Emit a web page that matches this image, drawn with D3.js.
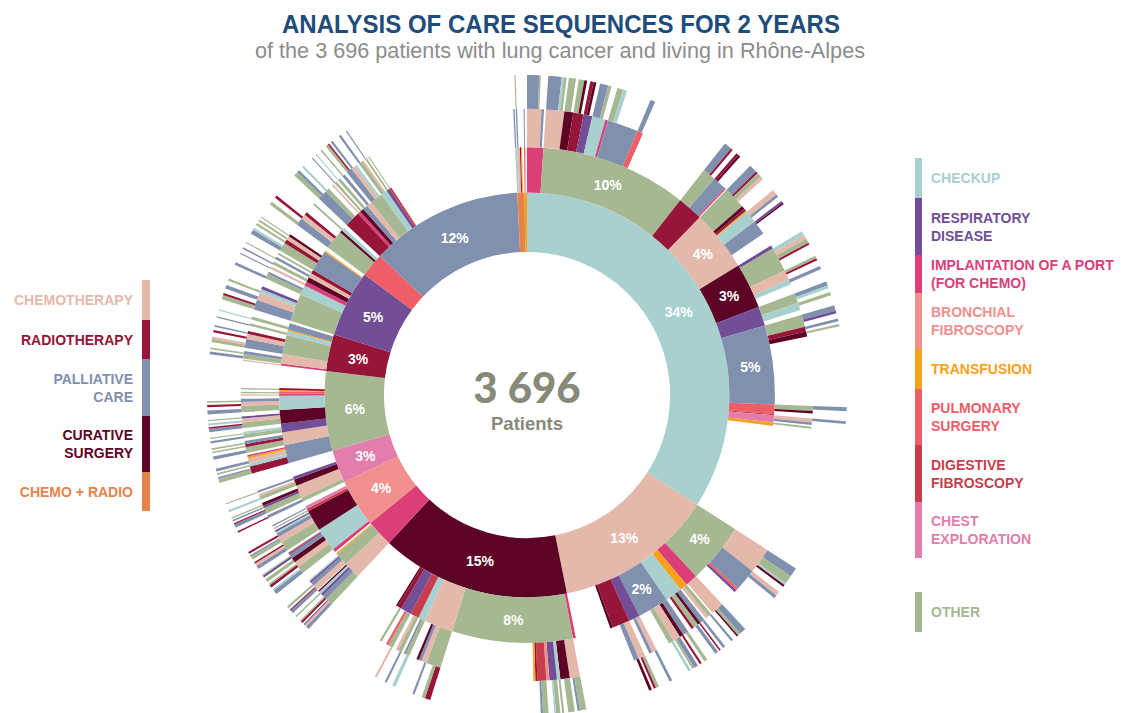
<!DOCTYPE html>
<html><head><meta charset="utf-8">
<script src="https://cdn.jsdelivr.net/npm/d3@7"></script>
<style>body{margin:0;background:#fff}svg{display:block}</style>
</head><body>
<svg id="chart" width="1127" height="713"></svg>
<script>
// ---------------- DATA ----------------
const titleText = "ANALYSIS OF CARE SEQUENCES FOR 2 YEARS";
const subtitleText = "of the 3 696 patients with lung cancer and living in Rhône-Alpes";
const centerNumber = "3 696";
const centerLabel = "Patients";

const categoryCodes = ["CHK","RES","POR","BRO","TRA","PUL","DIG","CHE","OTH","CMO","RAD","PAL","CUR","CR"];
const categoryNames = ["Checkup","Respiratory disease","Implantation of a port (for chemo)","Bronchial fibroscopy","Transfusion","Pulmonary surgery","Digestive fibroscopy","Chest exploration","Other","Chemotherapy","Radiotherapy","Palliative care","Curative surgery","Chemo + radio"];

// share of patients (%) for each care sequence (path of successive events)
const checkupSeqs = [
 ["CHK",34.11],
 ["CHK-POR",1.06],["CHK-POR-CMO",0.81],["CHK-POR-CMO-PAL",0.61],["CHK-POR-CMO-OTH",0.08],["CHK-POR-PAL",0.14],
 ["CHK-OTH",9.55],["CHK-OTH-CMO",1.03],["CHK-OTH-CMO-PAL",0.67],["CHK-OTH-CMO-CHK",0.11],["CHK-OTH-CMO-OTH",0.14],
 ["CHK-OTH-CUR",0.5],["CHK-OTH-CUR-OTH",0.36],
 ["CHK-OTH-RAD",0.58],["CHK-OTH-RAD-OTH",0.28],["CHK-OTH-RAD-CUR",0.14],
 ["CHK-OTH-RES",0.5],["CHK-OTH-RES-RAD",0.17],["CHK-OTH-RES-CUR",0.14],
 ["CHK-OTH-CHK",0.75],["CHK-OTH-CHK-PAL",0.42],["CHK-OTH-CHK-OTH",0.17],
 ["CHK-OTH-POR",0.14],
 ["CHK-OTH-PAL",1.75],["CHK-OTH-PAL-OTH",0.3],["CHK-OTH-PAL-CHK",0.2],
 ["CHK-OTH-PUL",0.33],["CHK-OTH-PUL-PAL",0.25],
 ["CHK-RAD",1.67],["CHK-RAD-OTH",0.75],["CHK-RAD-OTH-PAL",0.39],["CHK-RAD-OTH-RAD",0.11],
 ["CHK-RAD-PAL",0.78],["CHK-RAD-PAL-RAD",0.14],["CHK-RAD-PAL-CUR",0.11],["CHK-RAD-POR",0.08],
 ["CHK-CMO",3.97],["CHK-CMO-OTH",1.25],["CHK-CMO-OTH-PAL",0.42],["CHK-CMO-OTH-RAD",0.11],["CHK-CMO-OTH-OTH",0.22],["CHK-CMO-OTH-CMO",0.17],
 ["CHK-CMO-CUR",0.19],["CHK-CMO-RAD",0.14],["CHK-CMO-TRA",0.08],
 ["CHK-CMO-CHK",0.69],["CHK-CMO-CHK-CMO",0.28],["CHK-CMO-CHK-PAL",0.14],
 ["CHK-CMO-PAL",0.83],["CHK-CMO-PAL-RES",0.11],["CHK-CMO-PAL-CUR",0.08],
 ["CHK-CUR",2.97],["CHK-CUR-RES",0.19],["CHK-CUR-OTH",1.39],["CHK-CUR-OTH-CHK",0.22],["CHK-CUR-OTH-CMO",0.22],["CHK-CUR-OTH-OTH",0.22],["CHK-CUR-OTH-RAD",0.11],
 ["CHK-CUR-CMO",0.56],["CHK-CUR-CMO-OTH",0.14],["CHK-CUR-CMO-RAD",0.11],
 ["CHK-CUR-CHK",0.28],["CHK-CUR-CHK-PAL",0.17],
 ["CHK-RES",1.25],["CHK-RES-OTH",0.56],["CHK-RES-OTH-PAL",0.22],["CHK-RES-OTH-CHK",0.14],
 ["CHK-RES-CHK",0.42],["CHK-RES-CHK-OTH",0.17],
 ["CHK-PAL",5.14],["CHK-PAL-OTH",0.69],["CHK-PAL-OTH-PAL",0.28],["CHK-PAL-OTH-RES",0.14],
 ["CHK-PAL-RAD",0.28],["CHK-PAL-RAD-PAL",0.14],["CHK-PAL-CUR",0.28],["CHK-PAL-CUR-OTH",0.11],
 ["CHK-PUL",0.61],["CHK-PUL-OTH",0.28],["CHK-PUL-OTH-PAL",0.19],["CHK-PUL-CUR",0.14],
 ["CHK-DIG",0.08],
 ["CHK-CHE",0.47],["CHK-CHE-CMO",0.22],["CHK-CHE-CMO-PAL",0.14],["CHK-CHE-PAL",0.14],
 ["CHK-TRA",0.22],["CHK-TRA-OTH",0.11]
];
const chemoSeqs = [
 ["CMO",12.72],
 ["CMO-OTH",3.94],["CMO-OTH-CMO",1.44],["CMO-OTH-CMO-PAL",0.47],["CMO-OTH-CMO-OTH",0.42],["CMO-OTH-CMO-CHK",0.11],["CMO-OTH-CMO-CUR",0.11],
 ["CMO-OTH-PAL",1.25],["CMO-OTH-PAL-CMO",0.22],["CMO-OTH-PAL-PAL",0.17],["CMO-OTH-PUL",0.14],["CMO-OTH-RES",0.14],
 ["CMO-POR",0.81],["CMO-POR-CMO",0.72],["CMO-POR-CMO-PAL",0.33],["CMO-POR-CMO-OTH",0.14],["CMO-POR-CMO-CUR",0.08],
 ["CMO-TRA",0.5],["CMO-TRA-OTH",0.22],["CMO-TRA-OTH-PAL",0.11],["CMO-TRA-CMO",0.17],
 ["CMO-CHK",1.11],["CMO-CHK-PAL",0.28],["CMO-CHK-PAL-PAL",0.14],["CMO-CHK-CUR",0.17],["CMO-CHK-CUR-RAD",0.08],["CMO-CHK-OTH",0.28],["CMO-CHK-OTH-PAL",0.17],["CMO-CHK-RAD",0.14],
 ["CMO-PAL",2.03],["CMO-PAL-PAL",0.33],["CMO-PAL-PAL-OTH",0.17],["CMO-PAL-CUR",0.22],["CMO-PAL-CUR-RAD",0.11],["CMO-PAL-CMO",0.42],["CMO-PAL-CMO-PAL",0.22],["CMO-PAL-CMO-OTH",0.11],["CMO-PAL-OTH",0.28],["CMO-PAL-OTH-CHK",0.14],
 ["CMO-RES",0.72],["CMO-RES-CMO",0.28],["CMO-RES-CMO-PAL",0.14],["CMO-RES-PAL",0.17],
 ["CMO-RAD",1.14],["CMO-RAD-CMO",0.39],["CMO-RAD-CMO-OTH",0.17],["CMO-RAD-CMO-RAD",0.11],["CMO-RAD-PAL",0.28],["CMO-RAD-PAL-CUR",0.14],
 ["CMO-CUR",0.17]
];
const surgerySeqs = [
 ["CUR",15.11],
 ["CUR-POR",0.19],
 ["CUR-OTH",7.86],["CUR-OTH-CMO",0.58],["CUR-OTH-CMO-OTH",0.33],["CUR-OTH-CMO-PAL",0.11],
 ["CUR-OTH-CUR",0.53],["CUR-OTH-CUR-OTH",0.33],["CUR-OTH-CHK",0.19],["CUR-OTH-CHK-OTH",0.11],
 ["CUR-OTH-RES",0.42],["CUR-OTH-RES-OTH",0.22],["CUR-OTH-RES-CHK",0.08],["CUR-OTH-BRO",0.17],
 ["CUR-OTH-DIG",0.5],["CUR-OTH-DIG-OTH",0.28],["CUR-OTH-DIG-PAL",0.11],["CUR-OTH-RAD",0.11],["CUR-OTH-TRA",0.11],
 ["CUR-CMO",1.86],["CUR-CMO-OTH",0.83],["CUR-CMO-OTH-RAD",0.28],["CUR-CMO-OTH-OTH",0.17],["CUR-CMO-CMO",0.28],["CUR-CMO-CMO-PAL",0.11],["CUR-CMO-PAL",0.17],["CUR-CMO-CUR",0.14],
 ["CUR-CHK",0.47],["CUR-CHK-OTH",0.22],["CUR-CHK-OTH-CHK",0.17],["CUR-CHK-PAL",0.11],
 ["CUR-DIG",0.56],["CUR-DIG-OTH",0.22],["CUR-DIG-OTH-PAL",0.11],["CUR-DIG-CMO",0.14],
 ["CUR-RES",0.69],["CUR-RES-OTH",0.28],["CUR-RES-OTH-CMO",0.11],["CUR-RES-PUL",0.14],
 ["CUR-RAD",0.28],["CUR-RAD-OTH",0.14],["CUR-CUR",0.11]
];
const portSeqs = [
 ["POR",2.14],
 ["POR-CMO",1.11],["POR-CMO-OTH",0.42],["POR-CMO-OTH-PAL",0.17],["POR-CMO-OTH-CMO",0.11],["POR-CMO-OTH-RES",0.06],
 ["POR-CMO-PAL",0.28],["POR-CMO-PAL-RAD",0.11],["POR-CMO-PAL-OTH",0.08],["POR-CMO-RES",0.14],["POR-CMO-CHK",0.14],["POR-CMO-CHK-OTH",0.08],["POR-CMO-CUR",0.08],
 ["POR-OTH",0.83],["POR-OTH-CMO",0.33],["POR-OTH-CMO-PAL",0.17],["POR-OTH-CMO-RAD",0.06],["POR-OTH-PAL",0.22],["POR-OTH-PAL-OTH",0.11],["POR-OTH-RES",0.11],["POR-OTH-CHK",0.08],
 ["POR-TRA",0.08]
];
const bronchialSeqs = [
 ["BRO",3.83],
 ["BRO-POR",0.22],
 ["BRO-CHK",1.53],["BRO-CHK-OTH",0.42],["BRO-CHK-OTH-PAL",0.22],["BRO-CHK-OTH-CHK",0.08],["BRO-CHK-CMO",0.33],["BRO-CHK-CMO-RAD",0.14],["BRO-CHK-CMO-OTH",0.08],
 ["BRO-CHK-CUR",0.28],["BRO-CHK-CUR-OTH",0.17],["BRO-CHK-PAL",0.22],["BRO-CHK-PAL-RES",0.11],["BRO-CHK-PAL-OTH",0.06],["BRO-CHK-RES",0.08],["BRO-CHK-DIG",0.06],
 ["BRO-CUR",1.39],["BRO-CUR-OTH",0.56],["BRO-CUR-OTH-PAL",0.19],["BRO-CUR-OTH-CMO",0.14],["BRO-CUR-OTH-RAD",0.08],["BRO-CUR-CMO",0.33],["BRO-CUR-CMO-OTH",0.17],["BRO-CUR-CMO-PAL",0.08],
 ["BRO-CUR-PAL",0.22],["BRO-CUR-PAL-RAD",0.11],["BRO-CUR-CHK",0.11],["BRO-CUR-RES",0.08],
 ["BRO-DIG",0.17],["BRO-DIG-OTH",0.08],["BRO-CHE",0.19],["BRO-CHE-PAL",0.08]
];
const chestSeqs = [
 ["CHE",2.64],
 ["CHE-OTH",0.28],["CHE-OTH-PAL",0.17],["CHE-OTH-PAL-RAD",0.08],
 ["CHE-CMO",0.83],["CHE-CMO-OTH",0.33],["CHE-CMO-OTH-PAL",0.17],["CHE-CMO-OTH-RAD",0.06],["CHE-CMO-RES",0.14],["CHE-CMO-RES-PAL",0.08],["CHE-CMO-CUR",0.17],["CHE-CMO-CUR-OTH",0.08],
 ["CHE-CUR",0.42],["CHE-CUR-OTH",0.22],["CHE-CUR-OTH-CHK",0.11],["CHE-CUR-CMO",0.11],
 ["CHE-RES",0.19],["CHE-RES-PAL",0.11],["CHE-RES-PAL-OTH",0.06]
];
const otherSeqs = [
 ["OTH",6.33],
 ["OTH-PAL",1.19],["OTH-PAL-RAD",0.42],["OTH-PAL-RAD-OTH",0.22],["OTH-PAL-RAD-PAL",0.08],["OTH-PAL-CHK",0.17],["OTH-PAL-CHK-OTH",0.08],["OTH-PAL-CMO",0.28],["OTH-PAL-CMO-PAL",0.14],["OTH-PAL-TRA",0.11],["OTH-PAL-POR",0.08],
 ["OTH-CMO",0.83],["OTH-CMO-OTH",0.33],["OTH-CMO-OTH-PAL",0.17],["OTH-CMO-RAD",0.17],["OTH-CMO-RAD-OTH",0.08],["OTH-CMO-PAL",0.17],["OTH-CMO-PAL-OTH",0.08],
 ["OTH-RES",0.56],["OTH-RES-OTH",0.22],["OTH-RES-OTH-PAL",0.11],["OTH-RES-CHK",0.14],["OTH-RES-CHK-OTH",0.06],
 ["OTH-CUR",0.89],["OTH-CUR-OTH",0.33],["OTH-CUR-OTH-PAL",0.17],["OTH-CUR-OTH-RAD",0.08],["OTH-CUR-CMO",0.22],["OTH-CUR-CMO-CHK",0.11],["OTH-CUR-RES",0.11],["OTH-CUR-RES-OTH",0.06],
 ["OTH-CHK",0.92],["OTH-CHK-OTH",0.36],["OTH-CHK-OTH-PAL",0.19],["OTH-CHK-CMO",0.22],["OTH-CHK-CMO-RAD",0.11],["OTH-CHK-PAL",0.17],["OTH-CHK-PAL-OTH",0.08],
 ["OTH-POR",0.14],["OTH-POR-CMO",0.08],["OTH-PUL",0.14],["OTH-PUL-OTH",0.08],["OTH-TRA",0.08],["OTH-RAD",0.14],["OTH-RAD-OTH",0.08]
];
const radioSeqs = [
 ["RAD",2.94],
 ["RAD-POR",0.14],["RAD-POR-CMO",0.08],
 ["RAD-CMO",0.61],["RAD-CMO-OTH",0.25],["RAD-CMO-OTH-PAL",0.14],["RAD-CMO-PAL",0.17],["RAD-CMO-PAL-OTH",0.08],
 ["RAD-OTH",1.25],["RAD-OTH-PAL",0.5],["RAD-OTH-PAL-OTH",0.17],["RAD-OTH-PAL-CMO",0.11],["RAD-OTH-CMO",0.28],["RAD-OTH-CMO-RAD",0.11],["RAD-OTH-RAD",0.17],["RAD-OTH-RAD-PAL",0.08],
 ["RAD-CHK",0.28],["RAD-CHK-OTH",0.14],["RAD-CHK-OTH-PAL",0.06],
 ["RAD-TRA",0.08],
 ["RAD-PAL",0.42],["RAD-PAL-OTH",0.17],["RAD-PAL-OTH-CHK",0.06]
];
const respiratorySeqs = [
 ["RES",5.31],
 ["RES-OTH",1.83],["RES-OTH-PAL",0.56],["RES-OTH-PAL-OTH",0.22],["RES-OTH-PAL-RAD",0.11],["RES-OTH-CMO",0.42],["RES-OTH-CMO-PAL",0.19],["RES-OTH-CHK",0.22],["RES-OTH-CHK-OTH",0.11],["RES-OTH-RES",0.17],
 ["RES-CHK",0.61],["RES-CHK-OTH",0.28],["RES-CHK-OTH-PAL",0.14],["RES-CHK-PAL",0.14],
 ["RES-POR",0.28],["RES-POR-CMO",0.14],["RES-POR-CMO-PAL",0.06],
 ["RES-CUR",0.33],["RES-CUR-OTH",0.17],["RES-CUR-OTH-PAL",0.08],
 ["RES-CMO",0.28],["RES-CMO-PAL",0.14],["RES-CMO-PAL-OTH",0.06],
 ["RES-RAD",0.25],["RES-RAD-OTH",0.11],
 ["RES-PAL",1.39],["RES-PAL-OTH",0.5],["RES-PAL-OTH-PAL",0.22],["RES-PAL-OTH-CHK",0.11],["RES-PAL-RAD",0.22],["RES-PAL-RAD-OTH",0.11],["RES-PAL-CMO",0.22],["RES-PAL-CMO-OTH",0.1],["RES-PAL-CUR",0.14],["RES-PAL-CUR-OTH",0.06],
 ["RES-TRA",0.08]
];
const pulmonarySeqs = [
 ["PUL",1.89],
 ["PUL-OTH",1.25],["PUL-OTH-PAL",0.42],["PUL-OTH-PAL-OTH",0.17],["PUL-OTH-CMO",0.28],["PUL-OTH-CMO-RAD",0.14],["PUL-OTH-RAD",0.17],
 ["PUL-CUR",0.17],
 ["PUL-CHK",0.22],["PUL-CHK-OTH",0.11]
];
const palliativeSeqs = [
 ["PAL",12.19],
 ["PAL-RAD",1.03],["PAL-RAD-PAL",0.56],["PAL-RAD-PAL-OTH",0.22],["PAL-RAD-PAL-PAL",0.14],["PAL-RAD-OTH",0.22],["PAL-RAD-OTH-CHK",0.11],
 ["PAL-POR",0.19],["PAL-POR-CMO",0.1],
 ["PAL-CUR",0.25],["PAL-CUR-OTH",0.14],["PAL-CUR-OTH-PAL",0.06],
 ["PAL-PAL",0.33],["PAL-PAL-OTH",0.17],["PAL-PAL-OTH-CHK",0.06],
 ["PAL-CMO",0.33],["PAL-CMO-PAL",0.17],["PAL-CMO-PAL-OTH",0.08],
 ["PAL-OTH",0.83],["PAL-OTH-PAL",0.33],["PAL-OTH-PAL-OTH",0.14],["PAL-OTH-PAL-RAD",0.08],["PAL-OTH-CMO",0.22],["PAL-OTH-CMO-PAL",0.11],["PAL-OTH-CHK",0.14],
 ["PAL-CHK",0.42],["PAL-CHK-OTH",0.22],["PAL-CHK-OTH-PAL",0.11],["PAL-CHK-CMO",0.1],
 ["PAL-RES",0.22],["PAL-RES-OTH",0.11],["PAL-RES-OTH-PAL",0.06],
 ["PAL-DIG",0.14],["PAL-DIG-OTH",0.06]
];
const chemoRadioSeqs = [
 ["CR",0.58],["CR-CHK",0.14],["CR-CHK-PAL",0.08],["CR-CMO",0.17],["CR-CMO-PAL",0.08],["CR-CMO-PAL-OTH",0.06],["CR-RAD",0.08],["CR-TRA",0.06]
];
const transfusionSeqs = [
 ["TRA",0.19],["TRA-PUL",0.08],["TRA-PUL-PAL",0.06]
];

const rightLegendCodes = ["CHK","RES","POR","BRO","TRA","PUL","DIG","CHE","OTH"];
const rightLegendLabels = [["CHECKUP"],["RESPIRATORY","DISEASE"],["IMPLANTATION OF A PORT","(FOR CHEMO)"],["BRONCHIAL","FIBROSCOPY"],["TRANSFUSION"],["PULMONARY","SURGERY"],["DIGESTIVE","FIBROSCOPY"],["CHEST","EXPLORATION"],["OTHER"]];
const leftLegendCodes = ["CMO","RAD","PAL","CUR","CR"];
const leftLegendLabels = [["CHEMOTHERAPY"],["RADIOTHERAPY"],["PALLIATIVE","CARE"],["CURATIVE","SURGERY"],["CHEMO + RADIO"]];

// ---------------- STYLE / LAYOUT ----------------
const categoryColors = ["#a8d0ce","#714e96","#dc3e78","#f2908d","#f9a11b","#ef5d67","#c73d4b","#e37dab","#a6b891","#e4b9ab","#971539","#8190ae","#5d0426","#e6834a"];
const FONT = "'Liberation Sans', Arial, Helvetica, sans-serif";
const cx = 527, cy = 395, R = 320;
const rightLegend = {x: 915, w: 7, textX: 931, tops: [158,198,255,293,349,389,445,502,592], heights: [40,57,38,56,40,56,57,56,40]};
const leftLegend = {x: 142, w: 8, textX: 133, tops: [280,320,359,416,472], heights: [40,39,57,56,39]};

const color = d3.scaleOrdinal().domain(categoryCodes).range(categoryColors);
const svg = d3.select("#chart");

// ---------------- HIERARCHY ----------------
const allSeqs = [].concat(checkupSeqs, chemoSeqs, surgerySeqs, portSeqs, bronchialSeqs, chestSeqs,
  otherSeqs, radioSeqs, respiratorySeqs, pulmonarySeqs, palliativeSeqs, chemoRadioSeqs, transfusionSeqs);
const rootData = {name: "root", total: 0, children: []};
const byPath = new Map([["", rootData]]);
for (const [path, share] of allSeqs) {
  const parts = path.split("-");
  const parentPath = parts.slice(0, -1).join("-");
  const node = {name: parts[parts.length - 1], path, total: share, children: []};
  byPath.get(parentPath).children.push(node);
  byPath.set(path, node);
}
(function setOwn(n) {
  const cs = d3.sum(n.children, c => c.total);
  n.own = Math.max(0, n.total - cs);
  n.children.forEach(setOwn);
})(rootData);
rootData.own = 0;

const root = d3.hierarchy(rootData, d => d.children.length ? d.children : null).sum(d => d.own);
d3.partition().size([2 * Math.PI, R * R])(root);

const arc = d3.arc()
  .startAngle(d => d.x0).endAngle(d => d.x1)
  .innerRadius(d => Math.sqrt(d.y0)).outerRadius(d => Math.sqrt(d.y1));

const g = svg.append("g").attr("transform", `translate(${cx},${cy})`);
const nodes = root.descendants().filter(d => d.depth > 0);
g.selectAll("path.seg").data(nodes).join("path")
  .attr("class", "seg")
  .attr("d", arc)
  .attr("fill", d => color(d.data.name));

const midR = d => (Math.sqrt(d.y0) + Math.sqrt(d.y1)) / 2;
const labelled = nodes.filter(d => d.depth <= 2 && (d.x1 - d.x0) * midR(d) >= 27.5);
g.selectAll("text.pct").data(labelled).join("text")
  .attr("class", "pct")
  .attr("transform", d => {
    const a = (d.x0 + d.x1) / 2, r = midR(d);
    return `translate(${r * Math.sin(a)},${-r * Math.cos(a)})`;
  })
  .attr("text-anchor", "middle").attr("dy", "0.36em")
  .attr("fill", "#fff").attr("font-family", FONT).attr("font-weight", "bold").attr("font-size", 14)
  .text(d => Math.round(d.value / root.value * 100) + "%");

// center
g.append("text").attr("text-anchor", "middle").attr("y", 8)
  .attr("font-family", "Lato, 'Liberation Sans', sans-serif").attr("font-weight", 900).attr("font-size", 42)
  .attr("fill", "#888979").text(centerNumber);
g.append("text").attr("text-anchor", "middle").attr("y", 35)
  .attr("font-family", FONT).attr("font-weight", "bold").attr("font-size", 18.5)
  .attr("fill", "#888979").text(centerLabel);

// titles
svg.append("text").attr("x", 561).attr("y", 33).attr("text-anchor", "middle")
  .attr("font-family", FONT).attr("font-weight", "bold").attr("font-size", 25)
  .attr("textLength", 558).attr("lengthAdjust", "spacingAndGlyphs")
  .attr("fill", "#1f4d7b").text(titleText);
svg.append("text").attr("x", 560).attr("y", 58).attr("text-anchor", "middle")
  .attr("font-family", FONT).attr("font-size", 21.5)
  .attr("textLength", 610).attr("lengthAdjust", "spacingAndGlyphs")
  .attr("fill", "#8c8c8c").text(subtitleText);

// legends
function drawLegend(codes, labels, L, anchor) {
  const lg = svg.append("g");
  codes.forEach((code, i) => {
    const top = L.tops[i], h = L.heights[i];
    lg.append("rect").attr("x", L.x).attr("y", top).attr("width", L.w).attr("height", h).attr("fill", color(code));
    const lines = labels[i];
    const c = top + h / 2;
    const t = lg.append("text").attr("x", L.textX).attr("text-anchor", anchor)
      .attr("font-family", FONT).attr("font-weight", "bold").attr("font-size", 14)
      .attr("fill", color(code));
    lines.forEach((ln, j) => {
      t.append("tspan").attr("x", L.textX).attr("y", c + 5 - (lines.length - 1) * 9 + j * 18).text(ln);
    });
  });
}
drawLegend(rightLegendCodes, rightLegendLabels, rightLegend, "start");
drawLegend(leftLegendCodes, leftLegendLabels, leftLegend, "end");
</script>
</body></html>
